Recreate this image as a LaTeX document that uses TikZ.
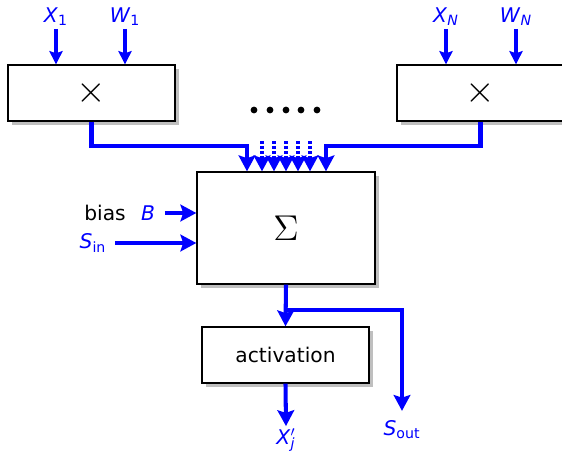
\documentclass[tikz,border=0pt]{standalone}
\usepackage{fontspec}
\setmainfont{DejaVu Sans}
\usetikzlibrary{arrows.meta,positioning,shadows}

\tikzset{
unitbox/.style={
  draw=black, line width=0.8pt, fill=white,
  minimum width=3.34cm, minimum height=1.12cm,
  drop shadow={shadow xshift=0.08cm, shadow yshift=-0.08cm,
               fill=black!25, opacity=1}},
flow/.style={blue, line width=2.3pt, -{Stealth[length=9pt,width=9.5pt,inset=1.5pt]}},
feed/.style={blue, line width=1.8pt, -{Stealth[length=7.5pt,width=7.5pt,inset=1.2pt]}},
dflow/.style={flow, dash pattern=on 1.5pt off 1.3pt},
lbl/.style={text=blue, inner sep=1.5pt}
}

\begin{document}
\begin{tikzpicture}[x=0.02cm, y=-0.02cm, font=\fontsize{11.5}{14}\selectfont]

\path[use as bounding box, clip] (0,0) rectangle (562,458);

% multipliers
\node[unitbox] (mulL) at (91.5,93) {\scalebox{1.8}{$\times$}};
\node[unitbox] (mulR) at (480.5,93) {\scalebox{1.8}{$\times$}};

\node[lbl] (x1) at (56,17) {\textit{X}\textsubscript{1}};
\node[lbl] (w1) at (125,17) {\textit{W}\textsubscript{1}};
\node[lbl] (xN) at (446,17) {\textit{X}\textsubscript{\textit{N}}};
\node[lbl] (wN) at (516,17) {\textit{W}\textsubscript{\textit{N}}};

\foreach \n in {x1,w1} \draw[feed] (\n) -- (\n |- mulL.north);
\foreach \n in {xN,wN} \draw[feed] (\n) -- (\n |- mulR.north);

\foreach \x in {254,270,286,301,317}
  \fill (\x,110) circle (3.4);

% summation
\node[unitbox, minimum width=3.56cm, minimum height=2.24cm]
  (sum) at (286,228) {\scalebox{1.7}{$\Sigma$}};

\draw[flow] (mulL.south) -- ++(0,24) -| ([xshift=-0.78cm]sum.north);
\draw[flow] (mulR.south) -- ++(0,24) -| ([xshift=0.8cm]sum.north);
\foreach \dx in {-24,-12,0,12,24}
  \draw[dflow] ([shift={(\dx,-30)}]sum.north) -- ([xshift=\dx*0.02cm]sum.north);

\node (bias) at (105,213) {bias};
\node[lbl] (b) at (148,213) {\textit{B}};
\node[lbl] (sin) at (93,243) {\textit{S}\textsubscript{in}};
\draw[flow] ([xshift=0.14cm]b.east) -- (sum.west |- b);
\draw[flow] ([xshift=0.12cm]sin.east) -- (sum.west |- sin);

% activation
\node[unitbox] (act) at (285.5,355) {activation};
\node[lbl] (xj) at (286,440)
  {\textit{X}\rlap{$^{\prime}$}\textsubscript{\textit{j}}};
\node[lbl] (sout) at (402,430) {\textit{S}\textsubscript{out}};

\coordinate (split) at ([shift={(0,25)}]sum.south);
\draw[flow] (sum.south) -- (act.north);
\draw[flow] (split) -| ([yshift=0.14cm]sout.north);
\draw[flow] (act.south) -- (xj.north);

\end{tikzpicture}
\end{document}
